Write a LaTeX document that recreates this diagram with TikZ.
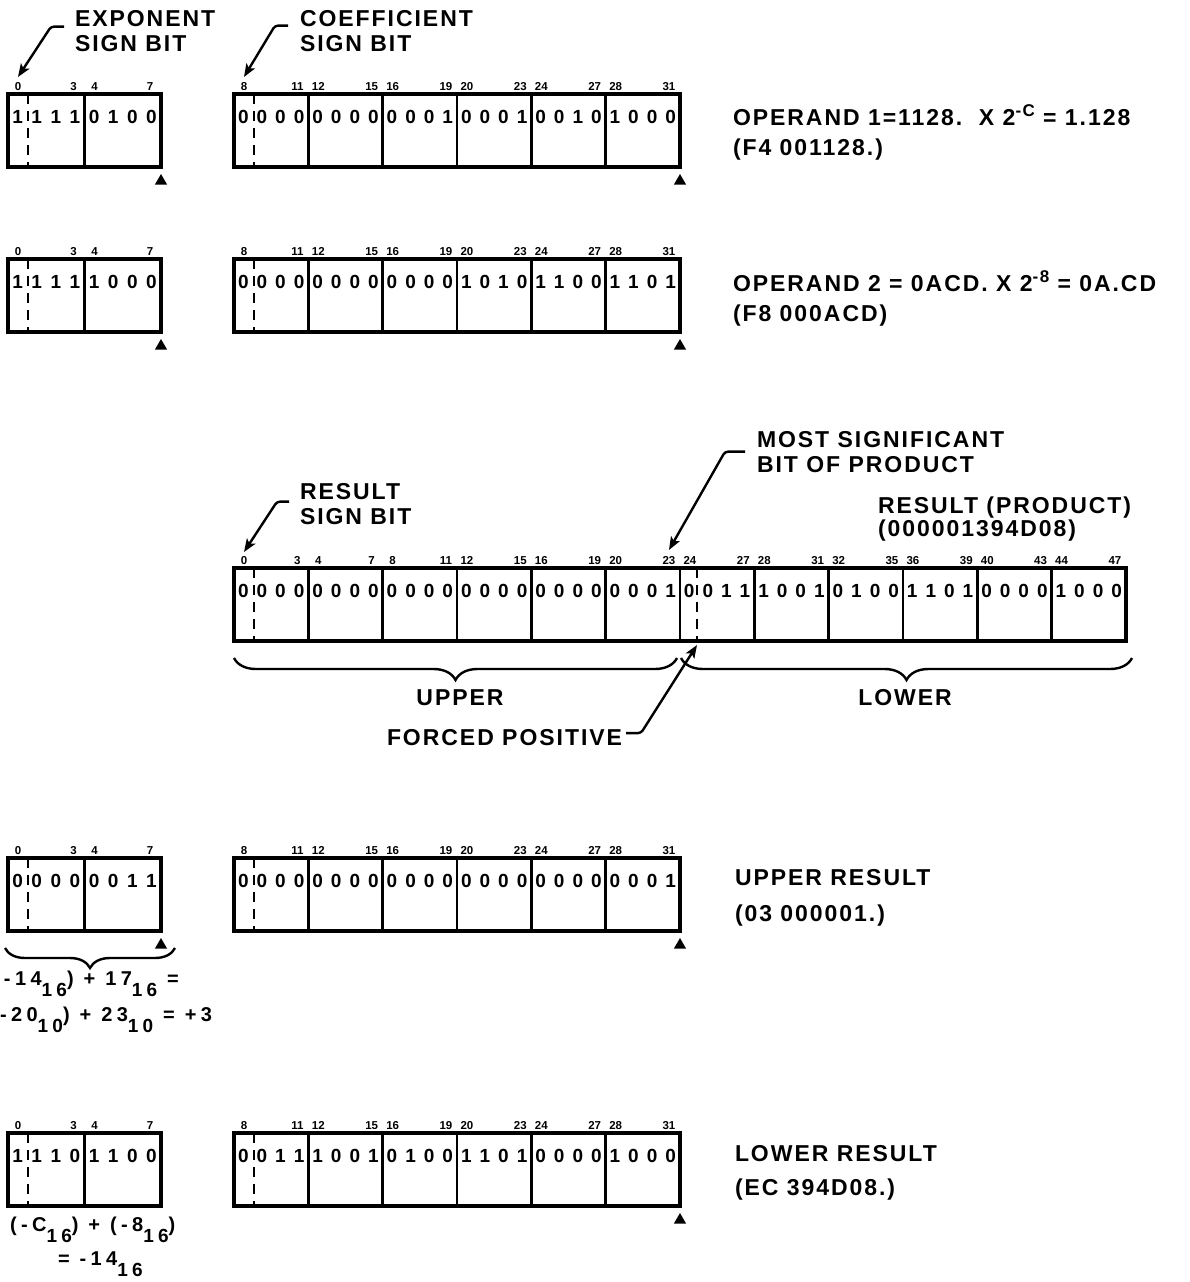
\documentclass[tikz,border=0pt]{standalone}
\usepackage{fontspec}
\setmainfont{Liberation Sans}
\newfontfamily\lettering{Liberation Sans}[LetterSpace=8.5]
\newfontfamily\formulafont{Liberation Sans}[LetterSpace=22]
\usetikzlibrary{positioning, arrows.meta, shapes.geometric, decorations.pathreplacing}

% raised exponent and lowered base, as in the hand lettering
\newcommand{\supx}[1]{\raisebox{9pt}{\fontsize{17}{17}\selectfont #1}}
\newcommand{\subx}[1]{\raisebox{-11pt}{\fontsize{19}{19}\selectfont #1}}

% register: name, left x, top y, cells, cell width, first bit number, bit values
\newcommand{\drawreg}[7]{%
  \node[regframe, minimum width={#4*#5}, anchor=north west] (#1) at (#2,#3) {};
  \pgfmathtruncatemacro{\lastcell}{#4-1}%
  \foreach \k in {1,...,\lastcell}
    \draw[cellsep] (#1.north west) ++(\k*#5,0) -- ++(0,73);
  \draw[signline] (#1.north west) ++(20,0) -- ++(0,73);
  \foreach \k [evaluate=\k as \lo using int(#6+4*\k),
               evaluate=\k as \hi using int(#6+4*\k+3)] in {0,...,\lastcell} {
    \node[bitno] (#1-lo\k) at (#2+\k*#5+10, #3-4) {\lo};
    \node[bitno] (#1-hi\k) at (#2+\k*#5+#5-11, #3-4) {\hi};
  }
  \foreach \b [count=\i from 0] in {#7} {
    \pgfmathsetmacro{\bx}{#2+(floor(\i/4)+(mod(\i,4)+0.5)/4)*#5}
    \node[bitval] (#1-b\i) at (\bx, #3+23) {\b};
  }
}

\begin{document}
\begin{tikzpicture}[
  x=1pt, y=-1pt,
  every node/.style={inner sep=0pt, outer sep=0pt},
  regframe/.style={draw, line width=3.2pt, minimum height=73},
  cellsep/.style={line width=2.6pt},
  signline/.style={line width=2.4pt, dash pattern=on 10pt off 7pt},
  bitno/.style={font=\bfseries\fontsize{11.5}{12}\selectfont, anchor=base},
  bitval/.style={font=\bfseries\fontsize{19}{19}\selectfont},
  caption/.style={font=\lettering\bfseries\fontsize{23}{25}\selectfont, align=left, anchor=north west},
  note/.style={font=\lettering\bfseries\fontsize{23}{25}\selectfont, anchor=base west},
  formula/.style={font=\formulafont\bfseries\fontsize{20}{20}\selectfont, anchor=base west},
  pointer/.style={-{Stealth[length=13pt,width=10pt,inset=3pt]}, line width=2.4pt, rounded corners=3pt},
  tipmark/.style={regular polygon, regular polygon sides=3, fill, minimum size=14pt},
  brace/.style={decorate, decoration={brace, mirror, amplitude=#1}, line width=2.4pt},
]
  \path[use as bounding box, fill=white] (0,0) rectangle (1189,1282);

  % operand 1
  \drawreg{e1}{8}{94}{2}{76.5}{0}{1,1,1,1,0,1,0,0}
  \drawreg{c1}{234}{94}{6}{74.33}{8}{0,0,0,0,0,0,0,0,0,0,0,1,0,0,0,1,0,0,1,0,1,0,0,0}
  \node[tipmark] (e1-tip) at ([yshift=-14pt]e1.south east) {};
  \node[tipmark] (c1-tip) at ([yshift=-14pt]c1.south east) {};
  \node[caption] (expsign) at (75,10) {EXPONENT\\SIGN BIT};
  \draw[pointer] ([xshift=-11pt,yshift=4pt]expsign.west) -- ++(-13,0) -- ([yshift=5pt]e1-lo0.north);
  \node[caption] (coefsign) at (300,10) {COEFFICIENT\\SIGN BIT};
  \draw[pointer] ([xshift=-12pt,yshift=5pt]coefsign.west) -- ++(-13,0) -- ([yshift=5pt]c1-lo0.north);
  \node[note] (op1a) at (733,125) {OPERAND 1=1128.\ \ X 2\supx{-C} = 1.128};
  \node[note] (op1b) at (733,155) {(F4 001128.)};

  % operand 2
  \drawreg{e2}{8}{259}{2}{76.5}{0}{1,1,1,1,1,0,0,0}
  \drawreg{c2}{234}{259}{6}{74.33}{8}{0,0,0,0,0,0,0,0,0,0,0,0,1,0,1,0,1,1,0,0,1,1,0,1}
  \node[tipmark] (e2-tip) at ([yshift=-14pt]e2.south east) {};
  \node[tipmark] (c2-tip) at ([yshift=-14pt]c2.south east) {};
  \node[note] (op2a) at (733,291) {OPERAND 2 = 0ACD. X 2\supx{-8} = 0A.CD};
  \node[note] (op2b) at (733,321) {(F8 000ACD)};

  % product
  \drawreg{r}{234}{568}{12}{74.33}{0}{0,0,0,0,0,0,0,0,0,0,0,0,0,0,0,0,0,0,0,0,0,0,0,1,0,0,1,1,1,0,0,1,0,1,0,0,1,1,0,1,0,0,0,0,1,0,0,0}
  \draw[signline] (r.north west) ++(6*74.33+17,0) -- ++(0,73);
  \node[caption] (ressign) at (300,483) {RESULT\\SIGN BIT};
  \draw[pointer] ([xshift=-11pt,yshift=2pt]ressign.west) -- ++(-12,0) -- ([yshift=4pt]r-lo0.north);
  \node[caption] (msb) at (757,431) {MOST SIGNIFICANT\\BIT OF PRODUCT};
  \draw[pointer] ([xshift=-12pt]msb.west) -- ++(-20,0) -- ([yshift=6pt]r-hi5.north);
  \node[note] (prod) at (878,513) {RESULT (PRODUCT)};
  \node[note] (prodhex) at (878,536) {(000001394D08)};

  \coordinate (upperL) at (234,658);
  \coordinate (upperR) at (677,658);
  \coordinate (lowerL) at (681,658);
  \coordinate (lowerR) at (1132,658);
  \draw[brace=22pt] (upperL) -- (upperR);
  \draw[brace=22pt] (lowerL) -- (lowerR);
  \node[note, anchor=base] (upper) at (460,705) {UPPER};
  \node[note, anchor=base] (lower) at (905,705) {LOWER};

  \coordinate (fpos) at (697,645);
  \node[note, anchor=base east] (forced) at (622,745) {FORCED POSITIVE};
  \draw[pointer] ([xshift=4pt,yshift=4pt]forced.east) -- ++(15,0) -- (fpos);

  % upper result
  \drawreg{e3}{8}{858}{2}{76.5}{0}{0,0,0,0,0,0,1,1}
  \drawreg{c3}{234}{858}{6}{74.33}{8}{0,0,0,0,0,0,0,0,0,0,0,0,0,0,0,0,0,0,0,0,0,0,0,1}
  \node[tipmark] (e3-tip) at ([yshift=-14pt]e3.south east) {};
  \node[tipmark] (c3-tip) at ([yshift=-14pt]c3.south east) {};
  \node[note] (upres) at (735,885) {UPPER RESULT};
  \node[note] (upreshex) at (735,921) {(03 000001.)};
  \coordinate (expL) at (5,948);
  \coordinate (expR) at (175,948);
  \draw[brace=20pt] (expL) -- (expR);
  \node[formula] (sum1) at (4,985) {-14\subx{16}) + 17\subx{16} =};
  \node[formula] (sum2) at (0,1021) {-20\subx{10}) + 23\subx{10} = +3};

  % lower result
  \drawreg{e4}{8}{1133}{2}{76.5}{0}{1,1,1,0,1,1,0,0}
  \drawreg{c4}{234}{1133}{6}{74.33}{8}{0,0,1,1,1,0,0,1,0,1,0,0,1,1,0,1,0,0,0,0,1,0,0,0}
  \node[tipmark] (c4-tip) at ([yshift=-14pt]c4.south east) {};
  \node[note] (lowres) at (735,1161) {LOWER RESULT};
  \node[note] (lowreshex) at (735,1195) {(EC 394D08.)};
  \node[formula] (sum3) at (10,1231) {(-C\subx{16}) + (-8\subx{16})};
  \node[formula] (sum4) at (58,1265) {= -14\subx{16}};
\end{tikzpicture}
\end{document}
